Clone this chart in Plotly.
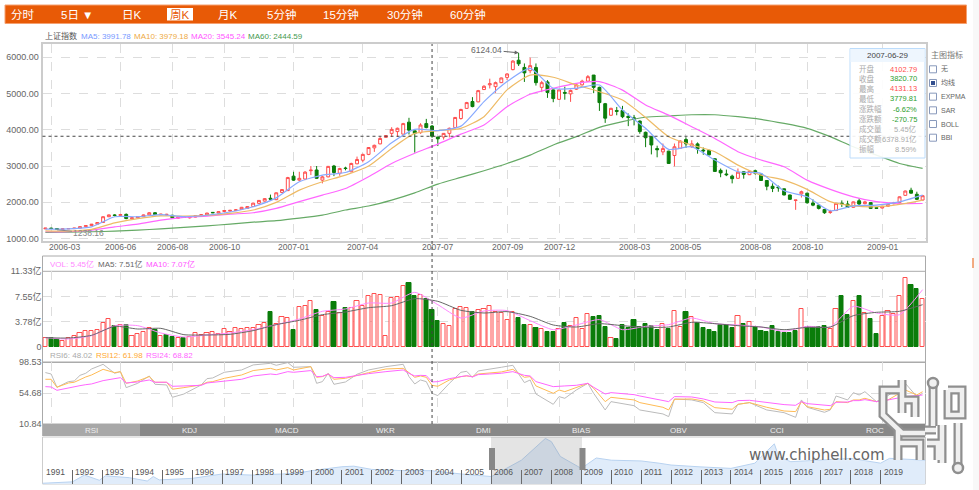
import plotly.graph_objects as go

# weekly candles, index 0..152
open_ = [1265,1285,1275,1250,1265,1272,1285,1325,1355,1395,
         1440,1600,1650,1635,1665,1545,1570,1600,1650,1710,
         1655,1650,1640,1560,1595,1570,1590,1625,1650,1720,
         1700,1745,1755,1770,1800,1830,1880,1970,2030,2110,
         2070,2270,2320,2720,2610,2640,2870,2890,2610,2700,
         3000,2800,2945,2840,3060,3160,3320,3500,3610,3790,
         3900,3950,3880,4210,3970,3920,4170,4102.79,3800,3800,
         3900,4060,4310,4590,4780,4770,5110,5240,5190,5300,
         5445,5660,5920,5720,5630,5720,5170,5320,5100,4840,
         5030,4990,5120,5240,5340,5510,5170,4720,4400,4530,
         4530,4370,4330,4240,3930,3810,3480,3390,3410,3290,
         3490,3730,3530,3610,3440,3430,3200,2880,2780,2720,
         2660,2840,2760,2870,2780,2600,2440,2420,2370,2200,
         2050,2230,2250,1980,1920,1800,1720,1770,1970,1950,
         1860,2040,1960,1990,1850,1840,1890,1960,1990,2190,
         2330,2220,2060]
close_ = [1285,1275,1250,1265,1275,1285,1325,1355,1395,1440,
          1600,1650,1635,1660,1550,1570,1600,1650,1710,1660,
          1670,1665,1570,1590,1585,1600,1630,1655,1700,1710,
          1740,1770,1775,1790,1860,1880,1975,2050,2100,2085,
          2260,2350,2680,2610,2660,2830,2885,2660,2700,2990,
          2820,2930,2930,3070,3180,3320,3510,3570,3760,3840,
          4010,4040,4170,3990,3900,4130,4060,3820.70,3750,3900,
          4040,4340,4560,4750,4640,5080,5200,5270,5300,5430,
          5540,5895,5820,5570,5770,5300,5300,5030,4860,5100,
          5010,5085,5240,5340,5465,5170,4750,4320,4590,4510,
          4360,4340,4290,3950,3780,3580,3450,3480,3070,3530,
          3690,3610,3610,3470,3420,3310,2850,2810,2760,2650,
          2830,2770,2850,2800,2600,2440,2380,2400,2200,2080,
          2060,2290,1985,1920,1830,1710,1735,1970,1960,1860,
          2010,1950,2010,1830,1830,1890,1940,1975,2150,2310,
          2250,2080,2180]
high_ = [1290,1295,1280,1270,1280,1290,1330,1360,1400,1450,
         1610,1660,1670,1680,1690,1590,1610,1660,1725,1730,
         1680,1680,1650,1600,1610,1610,1640,1665,1710,1730,
         1750,1780,1790,1810,1870,1890,1985,2060,2110,2210,
         2270,2360,2700,2840,2840,2860,3000,3000,2730,3000,
         3030,2950,2980,3090,3260,3340,3520,3590,3810,3850,
         4070,4060,4190,4330,3970,4180,4300,4131.13,3800,3910,
         4060,4350,4580,4770,4900,5100,5230,5410,5330,5440,
         5560,5920,6124.04,5830,5990,5830,5350,5370,5110,5110,
         5190,5110,5290,5380,5510,5510,5190,4740,4610,4630,
         4660,4450,4410,4260,3950,3830,3560,3620,3420,3620,
         3710,3790,3710,3650,3510,3450,3210,2930,2900,2760,
         2930,2860,2870,2900,2790,2610,2520,2460,2380,2210,
         2060,2320,2260,2080,1940,1810,1790,1980,2050,2040,
         2020,2110,2040,2000,1860,1900,1950,2010,2160,2320,
         2400,2290,2200]
low_ = [1260,1265,1238.16,1245,1260,1268,1280,1320,1350,1380,
        1430,1590,1610,1620,1530,1530,1560,1590,1640,1650,
        1640,1640,1560,1540,1570,1550,1580,1615,1640,1700,
        1690,1735,1745,1760,1790,1820,1870,1960,2020,2070,
        2060,2260,2310,2590,2590,2610,2750,2640,2520,2690,
        2720,2730,2880,2830,3050,3100,3300,3390,3600,3780,
        3800,3800,3870,3870,3370,3890,4040,3779.81,3550,3730,
        3790,4040,4280,4580,4620,4760,5100,5140,5020,5290,
        5370,5640,5760,5320,5560,5220,5040,4880,4760,4830,
        4830,4770,5100,5220,5330,5010,4520,4190,4380,4400,
        4320,4100,4120,3890,3520,3320,3240,3300,3060,2990,
        3470,3500,3500,3340,3310,3290,2840,2690,2720,2520,
        2650,2650,2750,2760,2590,2330,2280,2290,2190,2070,
        1790,2130,1960,1890,1800,1680,1680,1760,1870,1840,
        1850,1930,1940,1820,1825,1830,1870,1940,1980,2180,
        2240,2060,2050]
week_idx = list(range(len(open_)))

# moving averages, read every 4th week
ma_idx = list(range(0, 153, 4))
ma5 = [1260,1265,1320,1600,1600,1660,1600,1640,1730,1875,2120,2565,2750,2820,3120,3640,4010,3975,4100,4775,
       5330,5695,5145,5145,5235,4545,4040,3460,3530,3165,2840,2795,2315,2150,1765,1900,1920,2010,2195]
ma10 = [1210,1200,1250,1430,1550,1625,1615,1635,1690,1785,1995,2335,2565,2750,3000,3485,3900,3975,4040,4360,
        5100,5510,5450,5235,5050,4820,4340,3810,3580,3395,3025,2750,2610,2355,2015,1900,1875,1940,2060]
ma20 = [1185,1185,1230,1320,1395,1505,1580,1615,1670,1710,1830,2015,2195,2380,2705,3070,3350,3605,3880,4130,
        4635,4980,5145,5280,5330,5095,4685,4405,4085,3760,3395,3165,2980,2610,2355,2150,2015,1965,1965]
ma60 = [1165,1175,1185,1200,1230,1265,1305,1350,1395,1450,1490,1560,1645,1785,1895,2060,2260,2500,2685,2870,
        3070,3300,3580,3810,4065,4225,4345,4380,4415,4415,4360,4285,4175,4040,3810,3530,3300,3070,2935]

# volume, 亿
volume = [1.39,1.29,1.04,.89,1.29,1.59,2.09,2.39,2.39,2.53,3.63,4.17,3.13,3.28,3.28,1.69,1.94,2.29,2.83,2.58,
          1.69,1.79,1.54,1.34,1.34,1.49,2.09,1.79,2.09,2.29,1.94,2.68,2.29,2.83,2.68,2.88,2.88,3.28,3.58,5.17,
          3.48,4.47,4.32,2.58,5.96,6.16,6.91,5.57,4.57,5.22,6.66,5.12,5.81,5.81,6.91,6.16,7.65,7.90,7.75,1.64,
          7.31,7.46,9.14,9.54,7.55,7.75,7.21,5.45,3.93,3.48,3.18,5.67,5.96,5.81,5.17,5.57,5.67,6.16,
          5.22,5.07,4.08,5.27,4.32,3.28,3.28,2.83,2.68,2.19,2.19,2.68,3.58,3.13,4.32,2.68,4.92,4.42,4.62,3.03,
          1.34,1.24,3.28,2.88,4.03,2.98,3.38,3.08,2.58,3.38,2.73,5.37,2.93,5.17,4.47,3.53,2.78,2.58,2.19,3.33,
          3.33,2.78,4.62,3.38,3.73,2.98,2.39,2.19,3.08,2.24,2.14,2.14,2.44,5.67,3.03,3.03,2.93,3.13,2.68,5.67,
          7.60,4.72,6.86,7.55,5.07,4.22,1.89,4.62,5.42,4.97,7.60,10.29,9.29,8.65,7.16]
vol_down = [1,2,12,14,19,21,22,24,39,43,47,50,52,63,64,66,67,68,74,82,83,85,87,88,90,95,96,97,99,100,101,102,
            103,104,105,106,108,111,113,114,115,116,117,118,119,121,123,124,125,126,127,128,129,130,132,133,134,135,
            138,139,141,143,144,150,151]
vol_ma5 = [1.39,1.34,1.74,3.08,2.68,2.78,1.84,1.79,1.89,2.44,3.33,3.98,4.82,5.22,5.86,6.16,7.21,6.81,5.47,5.07,
           5.27,4.57,3.28,2.98,3.48,3.18,2.93,2.98,3.68,3.48,3.18,2.98,2.58,2.93,2.98,4.67,5.17,5.32,6.31]
vol_ma10 = [1.39,1.19,1.69,3.18,3.18,2.09,1.49,1.79,2.09,2.58,3.33,4.17,5.32,5.67,6.56,6.56,8.15,6.31,4.32,5.37,
            5.42,3.93,2.58,3.28,4.08,2.58,3.08,3.33,4.32,3.48,3.28,2.98,2.34,3.08,2.98,6.06,5.07,4.82,8.55]

# rsi, read at the turning points
rsi_idx = [0,1,2,4,5,6,7,8,10,12,13,14,16,18,19,21,22,24,27,28,29,31,34,36,39,40,42,43,46,47,48,49,50,52,54,56,
           59,62,63,64,65,66,67,68,70,72,73,74,75,77,79,81,83,84,85,88,89,90,92,94,95,97,98,102,103,107,108,109,
           112,114,116,119,120,122,125,128,130,131,132,135,136,137,139,140,141,142,144,146,149,151,152]
rsi6 = [84.0,82.0,63.2,71.2,72.1,80.1,83.0,89.1,95.7,83.0,85.3,62.7,68.8,79.2,67.4,66.5,49.0,53.7,66.5,75.4,
        76.4,84.4,87.7,94.8,97.1,94.3,98.1,91.5,92.4,68.8,71.2,83.0,67.4,70.7,81.6,87.7,92.4,95.7,78.3,67.9,
        73.5,71.2,54.7,51.4,68.8,84.4,85.8,77.3,86.3,88.6,91.5,94.3,69.8,73.5,53.7,39.1,50.0,47.6,59.4,68.8,
        54.7,31.1,42.9,37.2,31.1,25.5,21.7,46.7,45.3,41.5,27.3,25.5,39.1,41.5,31.1,27.3,20.7,45.3,34.9,27.8,
        31.1,50.9,45.3,55.6,52.3,57.0,42.9,51.4,68.8,50.0,54.7]
rsi12 = [74.5,74.5,63.2,69.3,70.3,74.5,77.8,80.6,88.6,83.9,85.3,68.8,72.1,78.3,70.3,70.3,60.4,62.7,66.5,70.3,
         71.2,75.9,80.6,86.8,90.0,87.7,91.0,87.7,92.4,77.3,78.3,82.0,74.5,75.9,80.1,83.9,89.1,90.0,83.9,77.3,
         79.2,77.3,66.0,64.6,73.5,78.3,79.2,78.3,82.0,83.9,84.9,88.6,77.3,78.3,65.1,54.7,59.4,57.0,63.2,68.8,
         61.8,42.9,49.0,45.3,41.5,34.9,31.1,46.2,46.7,43.9,34.4,32.1,39.1,41.5,34.9,29.7,28.8,42.9,35.8,31.1,
         32.1,42.9,41.5,45.3,45.3,47.6,42.9,45.3,59.4,52.3,57.0]
rsi24 = [64.1,63.6,58.9,62.7,63.6,65.5,66.9,67.9,72.6,75.9,76.8,69.3,70.7,73.5,70.3,70.3,64.6,65.1,66.0,69.3,
         70.3,72.1,74.5,79.2,82.0,81.1,85.3,84.4,86.8,78.3,78.7,82.0,76.8,77.3,80.1,82.5,85.3,87.7,83.0,79.2,
         80.1,79.7,70.7,71.2,75.4,78.3,79.7,77.8,81.1,82.0,83.0,85.3,80.1,79.2,71.2,64.1,65.1,65.1,66.0,68.8,
         63.2,53.7,55.6,52.8,50.9,45.3,42.9,50.0,49.5,46.7,42.4,41.5,44.3,44.8,41.5,38.7,37.7,42.9,40.1,37.2,
         37.2,41.9,42.4,44.3,44.3,45.7,42.9,45.3,50.0,51.4,52.3]

# overview area, whole index history
hist_year = [1991.0,1992.0,1992.4,1992.9,1993.1,1993.9,1994.5,1994.7,1994.9,1996.0,1997.0,1998.0,1999.0,1999.5,2000.0,
             2001.0,2001.4,2002.0,2003.0,2004.0,2005.0,2006.0,2007.0,2007.8,2008.0,2008.3,2009.0,2009.5,2010.0,2011.0,
             2011.6,2012.0,2013.0,2014.0,2014.8,2015.0,2015.45,2015.6,2016.0,2017.0,2018.0,2019.0,2019.3,2020.5]
hist_value = [100,290,1200,500,1100,850,400,1000,550,760,1340,1200,1340,1450,1800,
              2320,2400,1960,1800,1790,1340,1000,3200,6124,5700,3700,2100,3500,3200,3100,
              2800,2550,2300,2100,2800,3650,5400,3650,3000,3200,3450,2800,3450,3200]
hist_ticks = list(range(1991, 2020))

date_idx = [1,13,22,31,43,55,68,80,89,102,111,123,132,145]
date_text = ['2006-03','2006-06','2006-08','2006-10','2007-01','2007-04','2007-07','2007-09','2007-12',
             '2008-03','2008-05','2008-08','2008-10','2009-01']
price_ticks = [1000,2000,3000,4000,5000,6000]
vol_ticks = [0,3.78,7.55,11.33]
vol_text = ['0','3.78亿','7.55亿','11.33亿']
rsi_ticks = [10.84,54.68,98.53]

tab_names = ['RSI','KDJ','MACD','WKR','DMI','BIAS','OBV','CCI','ROC']
toolbar_names = ['分时','5日 ▼','日K','周K','月K','5分钟','15分钟','30分钟','60分钟']
tip_names = ['开盘','收盘','最高','最低','涨跌幅','涨跌额','成交量','成交额','振幅']
tip_values = ['4102.79','3820.70','4131.13','3779.81','-6.62%','-270.75','5.45亿','6378.91亿','8.59%']
indicator_names = ['无','均线','EXPMA','SAR','BOLL','BBI']

RED = '#ff4d4d'
GREEN = '#0a7d0a'
SANS = 'Liberation Sans, Noto Sans CJK SC'
GRID = '#dddddd'


def px(x):
    return x / 979


def py(y):
    return 1 - y / 490


def label(x, y, text, color='#666666', size=10, anchor='left', **kw):
    return dict(x=px(x), y=py(y), xref='paper', yref='paper', text=text, showarrow=False, xanchor=anchor,
                yanchor='middle', font=dict(family=SANS, size=size, color=color), **kw)


def box(x0, y0, x1, y1, fill=None, line=None, width=1, **kw):
    return dict(type='rect', xref='paper', yref='paper', x0=px(x0), x1=px(x1), y0=py(y0), y1=py(y1),
                fillcolor=fill or 'rgba(0,0,0,0)', line=dict(color=line or 'rgba(0,0,0,0)', width=width if line else 0), **kw)


fig = go.Figure()
fig.add_trace(go.Candlestick(x=week_idx, open=open_, high=high_, low=low_, close=close_, xaxis='x', yaxis='y',
                             whiskerwidth=0,
                             increasing=dict(line=dict(color=RED, width=1), fillcolor='white'),
                             decreasing=dict(line=dict(color=GREEN, width=1), fillcolor=GREEN)))
for vals, col in [(ma60, '#66aa66'), (ma20, '#ff66ff'), (ma10, '#eebb66'), (ma5, '#88aaff')]:
    fig.add_trace(go.Scatter(x=ma_idx, y=vals, mode='lines', xaxis='x', yaxis='y',
                             line=dict(color=col, width=1.2, shape='spline', smoothing=0.6)))

bar_fill = [GREEN if i in vol_down else 'white' for i in week_idx]
bar_line = [GREEN if i in vol_down else RED for i in week_idx]
fig.add_trace(go.Bar(x=week_idx, y=volume, width=0.72, xaxis='x2', yaxis='y2',
                     marker=dict(color=bar_fill, line=dict(color=bar_line, width=1))))
for vals, col in [(vol_ma10, '#ff88ff'), (vol_ma5, '#666666')]:
    fig.add_trace(go.Scatter(x=ma_idx, y=vals, mode='lines', xaxis='x2', yaxis='y2',
                             line=dict(color=col, width=1, shape='spline', smoothing=0.6)))

for vals, col in [(rsi6, '#bbbbbb'), (rsi12, '#ffbb55'), (rsi24, '#ff66ff')]:
    fig.add_trace(go.Scatter(x=rsi_idx, y=vals, mode='lines', xaxis='x3', yaxis='y3', line=dict(color=col, width=1)))

fig.add_trace(go.Scatter(x=hist_year, y=hist_value, mode='lines', xaxis='x4', yaxis='y4', fill='tozeroy',
                         fillcolor='#e0ecfa', line=dict(color='#b8d2f0', width=1)))

shapes = []
# toolbar
shapes.append(box(5, 5, 966.5, 23.5, fill='#e85a06', line='#f5a070', layer='below'))
shapes.append(box(167, 8, 193, 20.5, fill='white', layer='below'))
# page strip at right
shapes.append(box(973, 0, 979, 490, fill='#f8f8f8', layer='below'))
shapes.append(box(972.5, 258, 973.5, 268, fill='#e85a06', layer='below'))
# panel frames
shapes.append(box(42.5, 256, 925.5, 362.3, line='#aaaaaa', layer='below'))
shapes.append(box(42.5, 271.3, 925.5, 362.3, line='#aaaaaa', layer='below'))
shapes.append(box(42.5, 362.3, 925.5, 424, line='#aaaaaa', layer='below'))
shapes.append(box(42.5, 437, 925.5, 484, line='#cccccc', layer='below'))
# tab strip
shapes.append(box(42.5, 424, 925.5, 436, fill='#888888'))
shapes.append(box(42.5, 424, 140, 436, fill='#a8a8a8'))
# crosshair
shapes.append(dict(type='line', xref='x', yref='paper', x0=67, x1=67, y0=py(424), y1=py(44),
                   line=dict(color='#444444', width=1, dash='dot')))
shapes.append(dict(type='line', xref='paper', yref='y', x0=px(42.5), x1=px(925.5), y0=3820.7, y1=3820.7,
                   line=dict(color='#444444', width=1, dash='dot')))
# tooltip
shapes.append(box(850, 48.5, 925, 158, fill='rgba(255,255,255,0.9)', line='#bcdcfb'))
shapes.append(box(850.5, 49, 924.5, 62, fill='#eef6fe'))
# window on the overview
shapes.append(box(491, 437, 582, 484, fill='rgba(130,130,130,0.22)'))
shapes.append(box(489, 448, 495, 470, fill='#888888'))
shapes.append(box(579.5, 448, 585.5, 470, fill='#888888'))

annots = []
for name, x in zip(toolbar_names, [23, 77, 132, 180, 228, 281, 341, 405, 468]):
    annots.append(label(x, 14.5, name, color='#e85a06' if name == '周K' else 'white', size=11.5, anchor='center'))
annots.append(label(43, 36, '上证指数', color='#555555', size=8))
annots.append(label(79, 36, 'MA5: 3991.78', color='#7799ff', size=8))
annots.append(label(132, 36, 'MA10: 3979.18', color='#eeaa44', size=8))
annots.append(label(189, 36, 'MA20: 3545.24', color='#ff55ff', size=8))
annots.append(label(246, 36, 'MA60: 2444.59', color='#44994f', size=8))
annots.append(label(48, 264, 'VOL: 5.45亿', color='#ff88ff', size=8))
annots.append(label(96, 264, 'MA5: 7.51亿', color='#666666', size=8))
annots.append(label(144, 264, 'MA10: 7.07亿', color='#ff55ff', size=8))
annots.append(label(48, 355, 'RSI6: 48.02', color='#aaaaaa', size=8))
annots.append(label(94, 355, 'RSI12: 61.98', color='#ffaa33', size=8))
annots.append(label(144, 355, 'RSI24: 68.82', color='#ff66ff', size=8))

# date labels sit under the gridlines, the first one is pushed in
for i, (idx, text) in enumerate(zip(date_idx, date_text)):
    annots.append(dict(x=idx, y=py(246.5), xref='x', yref='paper', text=text, showarrow=False, xanchor='center',
                       yanchor='middle', xshift=13 if i == 0 else 0, font=dict(family=SANS, size=8.5, color='#666666')))

annots.append(dict(x=82, y=6124.04, xref='x', yref='y', text='6124.04', ax=-32, ay=-3, showarrow=True,
                   arrowhead=2, arrowsize=0.8, arrowwidth=1, arrowcolor='#666666',
                   font=dict(family=SANS, size=8.5, color='#666666')))
annots.append(dict(x=2, y=1238.16, xref='x', yref='y', text='1238.16', ax=32, ay=3, showarrow=True,
                   arrowhead=0, arrowwidth=1, arrowcolor='#888888',
                   font=dict(family=SANS, size=8.5, color='#888888')))

for i, name in enumerate(tab_names):
    annots.append(label(91 + 98 * i, 430, name, color='#eeeeee', size=8, anchor='center'))

annots.append(label(887.5, 55, '2007-06-29', color='#444444', size=8, anchor='center'))
tip_colors = [RED, '#2e9e2e', RED, '#2e9e2e', '#2e9e2e', '#2e9e2e', '#aaaaaa', '#aaaaaa', '#aaaaaa']
for i, (name, val, col) in enumerate(zip(tip_names, tip_values, tip_colors)):
    annots.append(label(856.5, 69 + 10 * i, name, color='#aaaaaa', size=7.5))
    annots.append(label(919, 69 + 10 * i, val, color=col, size=7.5, anchor='right'))

annots.append(label(929, 55, '主图指标', color='#777777', size=8))
for i, name in enumerate(indicator_names):
    y = 69.3 + 13.68 * i
    shapes.append(box(929.5, y - 3.5, 936.5, y + 3.5, fill='white', line='#8899bb'))
    if name == '均线':
        shapes.append(box(931, y - 2, 935, y + 2, fill='#334f8f'))
    annots.append(label(938.5, y, name, color='#666666', size=7))

# years in the overview
for yr in hist_ticks:
    annots.append(dict(x=yr, y=py(472), xref='x4', yref='paper', text=str(yr), showarrow=False, xanchor='left',
                       yanchor='middle', xshift=1, font=dict(family=SANS, size=8.5, color='#555555')))

# watermark
annots.append(dict(x=px(817), y=py(455), xref='paper', yref='paper', text='www.chiphell.com', showarrow=False,
                   xanchor='center', yanchor='middle',
                   font=dict(family='DejaVu Sans', size=15, color='#666666', shadow='0px 0px 3px #ffffff')))
logo_paths = [
    [(902, 390), (883, 390), (883, 415), (902, 433), (925, 433)],
    [(902, 380), (902, 413)],
    [(902, 400), (915, 400), (915, 417)],
    [(933, 383), (933, 426)],
    [(948, 390), (962, 390), (962, 415), (948, 415), (948, 390)],
    [(898, 430), (898, 460)],
    [(898, 443), (920, 443), (920, 460)],
    [(925, 430), (936, 430)],
    [(927, 443), (938, 443), (938, 460)],
    [(942, 425), (942, 463)],
    [(958, 423), (958, 468)],
]
for w, col in [(9, '#8f8f8f'), (4.5, '#f0f0f0')]:
    for pts in logo_paths:
        path = 'M ' + ' L '.join(f'{px(a)} {py(b)}' for a, b in pts)
        shapes.append(dict(type='path', xref='paper', yref='paper', path=path, line=dict(color=col, width=w)))
for cx, cy in [(933, 383), (958, 468)]:
    shapes.append(dict(type='circle', xref='paper', yref='paper', x0=px(cx - 5), x1=px(cx + 5), y0=py(cy + 5), y1=py(cy - 5),
                       fillcolor='#f0f0f0', line=dict(color='#8f8f8f', width=2.5)))

band = [-0.5, 152.5]
x_common = dict(range=band, tickmode='array', tickvals=date_idx, showticklabels=False, showgrid=True,
                gridcolor=GRID, griddash='dash', gridwidth=1, zeroline=False, domain=[px(42.5), px(925.5)],
                automargin=False)
y_common = dict(showgrid=True, gridcolor=GRID, griddash='dash', gridwidth=1, zeroline=False, tickmode='array',
                tickfont=dict(family=SANS, size=9, color='#666666'), ticks='', anchor='x', automargin=False)

fig.update_layout(
    width=979, height=490, margin=dict(l=0, r=0, t=0, b=0, autoexpand=False), paper_bgcolor='white', plot_bgcolor='white',
    showlegend=False, bargap=0, boxgap=0.28,
    xaxis=dict(**x_common, rangeslider=dict(visible=False), anchor='y', showline=True, linecolor='#cccccc',
               linewidth=2, mirror=True),
    yaxis=dict(**y_common, domain=[py(241), py(44)], range=[930, 6367], tickvals=price_ticks,
               ticktext=[f'{v:.2f}' for v in price_ticks], showline=True, linecolor='#cccccc', linewidth=2, mirror=True),
    xaxis2=dict(**x_common, anchor='y2'),
    yaxis2=dict({**y_common, 'anchor': 'x2'}, domain=[py(347), py(271)], range=[0, 11.33], tickvals=vol_ticks,
                ticktext=vol_text, showline=False),
    xaxis3=dict(**x_common, anchor='y3'),
    yaxis3=dict({**y_common, 'anchor': 'x3'}, domain=[py(424.3), py(362.3)], range=[10.84, 98.53], tickvals=rsi_ticks,
                ticktext=[f'{v:.2f}' for v in rsi_ticks], showline=False),
    xaxis4=dict(range=[1991, 2020.5], domain=[px(42.5), px(925.5)], anchor='y4', tickmode='array', tickvals=hist_ticks,
                showticklabels=False, ticks='inside', ticklen=14, tickcolor='#666666', tickwidth=1, showgrid=False,
                zeroline=False, automargin=False),
    yaxis4=dict(range=[0, 6320], domain=[py(484), py(437)], anchor='x4', visible=False, automargin=False),
    shapes=shapes, annotations=annots,
)
# the default page body has a margin, the chart has to start at the corner
fig.write_html("out.html", config={'displayModeBar': False}, post_script="document.body.style.margin='0';")
